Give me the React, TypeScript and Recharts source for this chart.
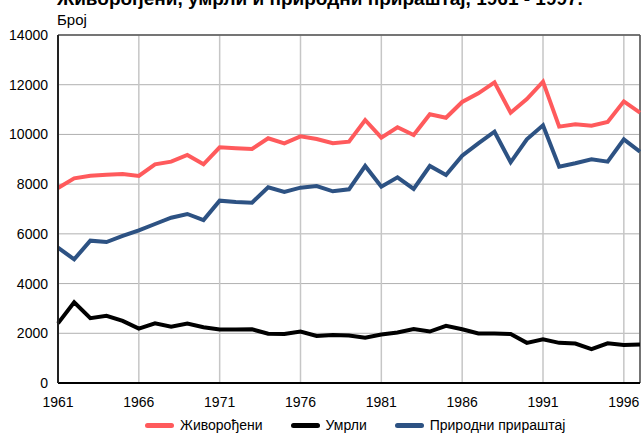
import React from 'react';
import {
  LineChart,
  Line,
  XAxis,
  YAxis,
  CartesianGrid,
  ReferenceLine,
  Legend,
} from 'recharts';

// Живорођени, умрли и природни прираштај, 1961 - 1997.

const years = [
  1961, 1962, 1963, 1964, 1965, 1966, 1967, 1968, 1969, 1970,
  1971, 1972, 1973, 1974, 1975, 1976, 1977, 1978, 1979, 1980,
  1981, 1982, 1983, 1984, 1985, 1986, 1987, 1988, 1989, 1990,
  1991, 1992, 1993, 1994, 1995, 1996, 1997,
];

const births = [
  7845, 8235, 8340, 8380, 8408, 8328, 8798, 8904, 9173, 8798,
  9482, 9442, 9414, 9844, 9643, 9925, 9816, 9643, 9708, 10580,
  9870, 10287, 9977, 10810, 10673, 11305, 11654, 12097, 10876, 11425,
  12122, 10313, 10407, 10352, 10500, 11330, 10876,
];

const deaths = [
  2400, 3250, 2610, 2700, 2500, 2186, 2400, 2260, 2390, 2240,
  2150, 2150, 2160, 1980, 1970, 2070, 1890, 1930, 1910, 1820,
  1950, 2030, 2172, 2070, 2300, 2160, 1990, 1987, 1970, 1615,
  1757, 1615, 1585, 1360, 1596, 1527, 1550,
];

const increase = [
  5443, 4976, 5725, 5672, 5914, 6142, 6397, 6651, 6799, 6557,
  7334, 7282, 7254, 7873, 7684, 7858, 7925, 7712, 7792, 8730,
  7897, 8275, 7805, 8730, 8368, 9145, 9643, 10110, 8879, 9804,
  10367, 8703, 8838, 9000, 8904, 9804, 9306,
];

const xTicks = [1961, 1966, 1971, 1976, 1981, 1986, 1991, 1996];
const yTicks = [0, 2000, 4000, 6000, 8000, 10000, 12000, 14000];

const TITLE = 'Живорођени, умрли и природни прираштај, 1961 - 1997.';
const UNIT = 'Број';

const SERIES = [
  { key: 'births', name: 'Живорођени', color: '#ff5a5c' },
  { key: 'deaths', name: 'Умрли', color: '#000000' },
  { key: 'increase', name: 'Природни прираштај', color: '#2d5283' },
];

const FONT = '"Liberation Sans", Arial, sans-serif';

const chartData = years.map((year, i) => ({
  year,
  births: births[i],
  deaths: deaths[i],
  increase: increase[i],
}));

// legend with thick line swatches under the plot
const LegendContent = () => (
  <div
    style={{
      display: 'flex',
      alignItems: 'center',
      fontFamily: FONT,
      fontSize: 14,
      lineHeight: '16px',
      color: '#000',
      height: 18,
      marginTop: 3,
      paddingLeft: 145,
    }}
  >
    {SERIES.map((s) => (
      <div key={s.key} style={{ display: 'flex', alignItems: 'center', marginRight: 28 }}>
        <div style={{ width: 29, height: 5, borderRadius: 3, background: s.color, marginRight: 6 }} />
        <span>{s.name}</span>
      </div>
    ))}
  </div>
);

export default function App() {
  return (
    <div style={{ position: 'fixed', left: 0, top: 0, width: 641, height: 436, background: '#fff' }}>
      <LineChart
        width={641}
        height={436}
        data={chartData}
        margin={{ top: 35, right: 1, bottom: 0, left: 0 }}
        style={{ fontFamily: FONT }}
      >
        <CartesianGrid horizontal={true} vertical={false} stroke="#b0b0b0" strokeWidth={1} />
        <CartesianGrid horizontal={false} vertical={true} stroke="#c6c6c6" strokeWidth={1.5} />
        <XAxis
          dataKey="year"
          type="number"
          domain={[1961, 1997]}
          ticks={xTicks}
          allowDecimals={false}
          height={30}
          tickLine={false}
          tickSize={0}
          tickMargin={14}
          axisLine={{ stroke: '#000', strokeWidth: 2 }}
          tick={{ fill: '#000', fontSize: 14 }}
        />
        <YAxis
          domain={[0, 14000]}
          ticks={yTicks}
          width={58}
          tickLine={false}
          tickSize={0}
          tickMargin={10}
          axisLine={{ stroke: '#222', strokeWidth: 2 }}
          tick={{ fill: '#000', fontSize: 14 }}
        />
        <ReferenceLine y={14000} stroke="#555" strokeWidth={1.5} />
        <ReferenceLine x={1997} stroke="#555" strokeWidth={1.5} />
        {SERIES.map((s) => (
          <Line
            key={s.key}
            dataKey={s.key}
            name={s.name}
            type="linear"
            stroke={s.color}
            strokeWidth={4}
            dot={false}
            activeDot={false}
            isAnimationActive={false}
          />
        ))}
        <Legend verticalAlign="bottom" height={23} content={<LegendContent />} />
      </LineChart>
      <svg
        width={641}
        height={40}
        style={{ position: 'absolute', left: 0, top: 0, pointerEvents: 'none', fontFamily: FONT }}
      >
        <text x={57} y={5} fontSize={19} fontWeight="bold" fill="#000">
          {TITLE}
        </text>
        <text x={57} y={25} fontSize={15} fill="#000">
          {UNIT}
        </text>
      </svg>
    </div>
  );
}
